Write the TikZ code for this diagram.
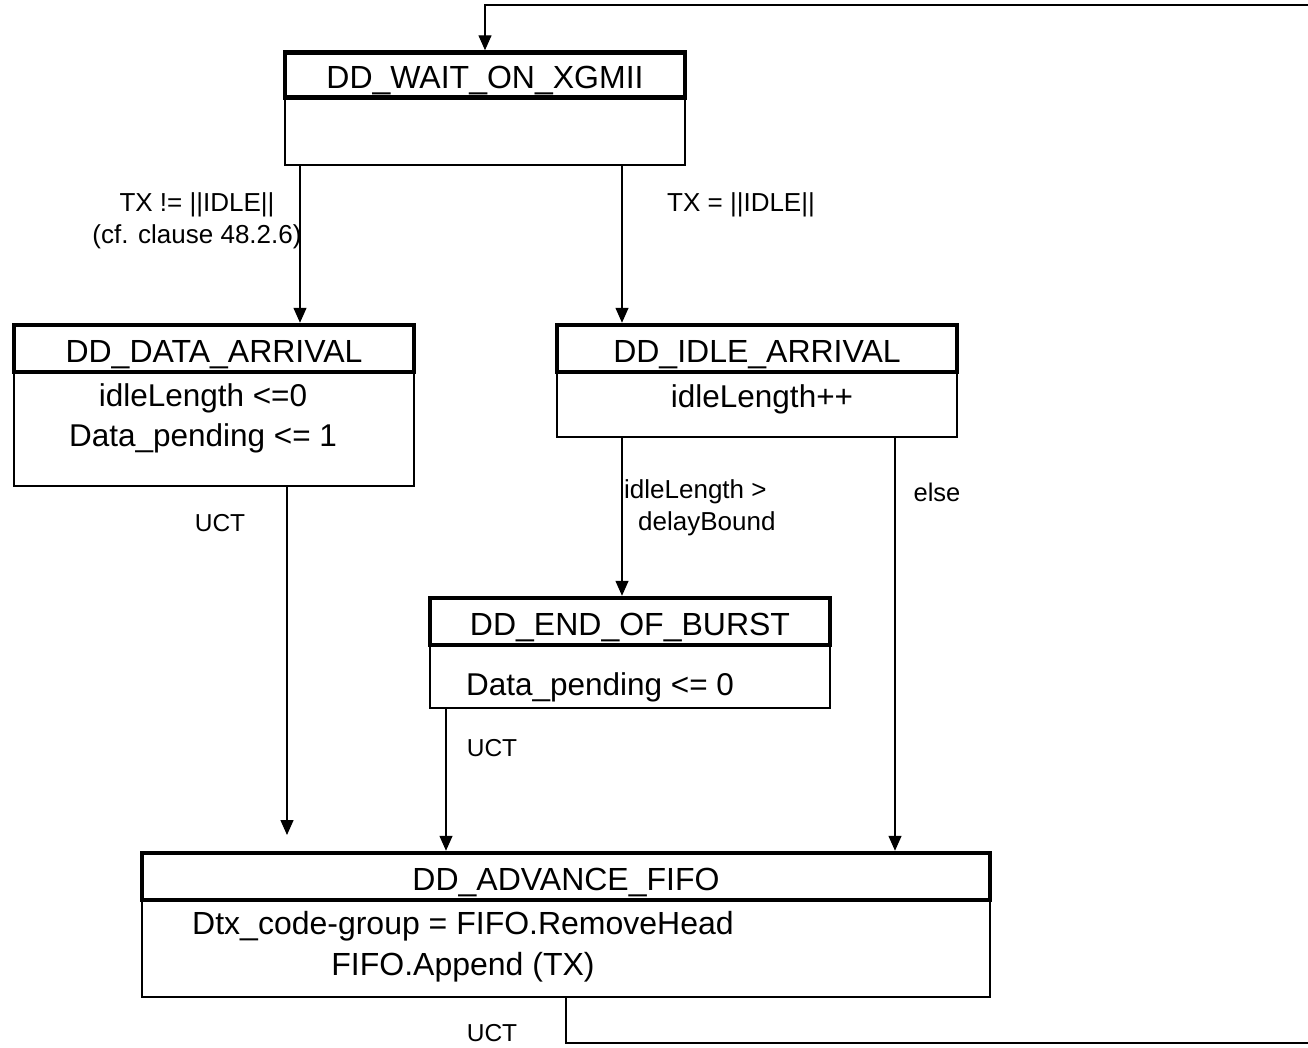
\documentclass[tikz,border=0pt]{standalone}
\usepackage{fontspec}
\setmainfont{Liberation Sans}
\usetikzlibrary{arrows.meta}
\begin{document}
\begin{tikzpicture}[x=1pt,y=-1pt,
  hdr/.style={draw,line width=4.5pt,fill=white,inner sep=0pt,minimum width=400pt,minimum height=45pt,text height=27pt,text depth=0pt,font=\fontsize{32}{38}\selectfont},
  bodybox/.style={draw,line width=1.4pt,fill=white,inner sep=0pt,minimum width=400pt},
  btext/.style={inner sep=0pt,align=center,font=\fontsize{31.5}{40}\selectfont},
  lbl/.style={inner sep=0pt,align=center,font=\fontsize{26}{32}\selectfont},
  arr/.style={line width=1.4pt,-{Triangle[length=15pt,width=13pt]}},
  ln/.style={line width=1.4pt}]
\useasboundingbox (0,0) rectangle (1308,1047);
% WAIT
\node[bodybox,minimum height=68pt] (wb) at (485,131) {};
\node[hdr] (wh) at (485,75) {DD\_WAIT\_ON\_XGMII};
% DATA
\node[bodybox,minimum height=114pt] (db) at (214,429) {};
\node[hdr,minimum height=47pt] (dh) at (214,348.5) {DD\_DATA\_ARRIVAL};
\node[btext] (dt) at (203,418) {idleLength <=0\\Data\_pending <= 1};
% IDLE
\node[bodybox,minimum height=65pt] (ib) at (757,404.5) {};
\node[hdr,minimum height=47pt] (ih) at (757,348.5) {DD\_IDLE\_ARRIVAL};
\node[btext] (it) at (762,399) {idleLength++};
% END
\node[bodybox,minimum height=63pt] (eb) at (630,676.5) {};
\node[hdr,minimum height=47pt] (eh) at (630,621.5) {DD\_END\_OF\_BURST};
\node[btext] (et) at (600,687) {Data\_pending <= 0};
% ADVANCE
\node[bodybox,minimum width=848pt,minimum height=97pt] (ab) at (566,948.5) {};
\node[hdr,minimum width=848pt,minimum height=47pt] (ah) at (566,876.5) {DD\_ADVANCE\_FIFO};
\node[btext,font=\fontsize{32}{41}\selectfont] (at) at (463,946.5) {Dtx\_code-group = FIFO.RemoveHead\\FIFO.Append (TX)};
% coordinates
\coordinate (x300) at (300,0);
\coordinate (x622) at (622,0);
\coordinate (x895) at (895,0);
\coordinate (x287) at (287,0);
\coordinate (x446) at (446,0);
\coordinate (x566) at (566,0);
\coordinate (x485) at (485,0);
\coordinate (dataend) at (287,835);
\coordinate (fb1) at (566,1043);
\coordinate (fb2) at (1320,1043);
\coordinate (fb3) at (1320,5);
\coordinate (fb4) at (485,5);
% connectors
\draw[arr] (wb.south -| x300) -- (dh.north -| x300);
\draw[arr] (wb.south -| x622) -- (ih.north -| x622);
\draw[arr] (ib.south -| x622) -- (eh.north -| x622);
\draw[arr] (ib.south -| x895) -- (ah.north -| x895);
\draw[arr] (db.south -| x287) -- (dataend);
\draw[arr] (eb.south -| x446) -- (ah.north -| x446);
\draw[arr] (ab.south -| x566) -- (fb1) -- (fb2) -- (fb3) -- (fb4) -- (wh.north -| x485);
% labels
\node[lbl] (l1) at (197,221) {TX != ||IDLE||\\(cf. clause 48.2.6)};
\node[lbl] (l2) at (741,205) {TX = ||IDLE||};
\node[lbl,align=left,anchor=west] (l3) at (624,508) {idleLength >\\\hspace*{14pt}delayBound};
\node[lbl,font=\fontsize{25.5}{32}\selectfont] (l4) at (937,492) {else};
\node[lbl,font=\fontsize{24.5}{32}\selectfont] (l5) at (220,523) {UCT};
\node[lbl,font=\fontsize{24.5}{32}\selectfont] (l6) at (492,748) {UCT};
\node[lbl,font=\fontsize{24.5}{32}\selectfont] (l7) at (492,1033) {UCT};
\end{tikzpicture}
\end{document}
